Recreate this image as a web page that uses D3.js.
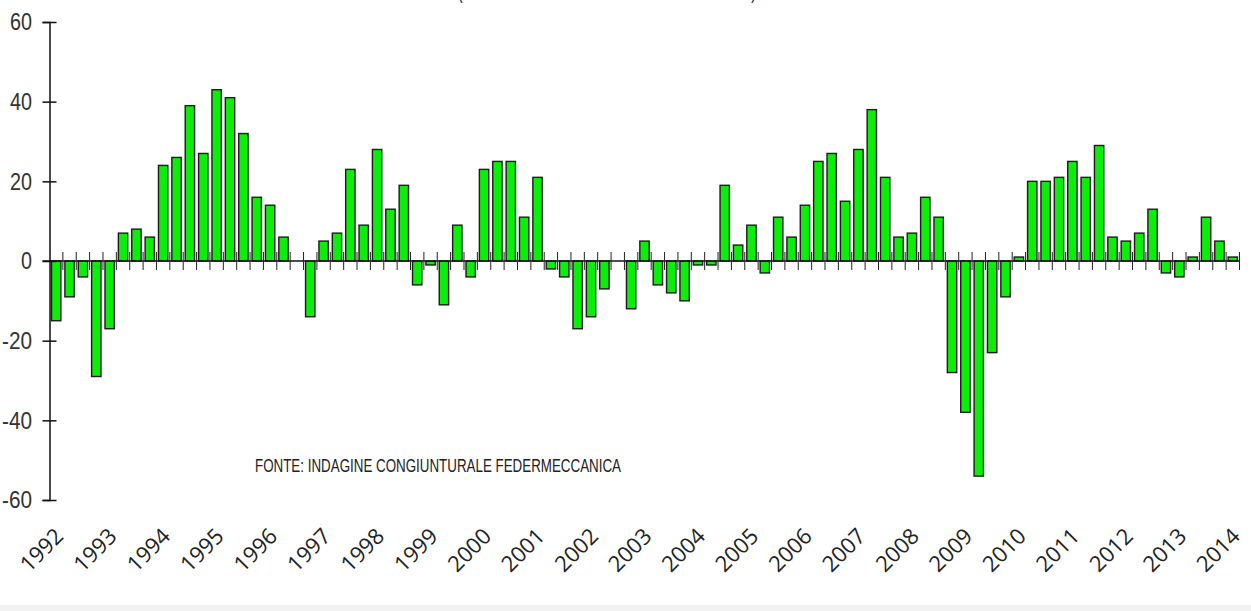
<!DOCTYPE html>
<head>
<meta charset="utf-8">
<style>
  body { margin: 0; background: #fff; }
  svg { display: block; }
</style>
<script src="https://d3js.org/d3.v7.min.js"></script>
</head>
<body>
<script>
// quarterly balance, 1992 Q1 .. 2014 Q1
var years = d3.range(1992, 2015);
var quarters = ["I", "II", "III", "IV"];
var values = [
  -15, -9, -4, -29,     // 1992
  -17, 7, 8, 6,         // 1993
  24, 26, 39, 27,       // 1994
  43, 41, 32, 16,       // 1995
  14, 6, 0, -14,        // 1996
  5, 7, 23, 9,          // 1997
  28, 13, 19, -6,       // 1998
  -1, -11, 9, -4,       // 1999
  23, 25, 25, 11,       // 2000
  21, -2, -4, -17,      // 2001
  -14, -7, 0, -12,      // 2002
  5, -6, -8, -10,       // 2003
  -1, -1, 19, 4,        // 2004
  9, -3, 11, 6,         // 2005
  14, 25, 27, 15,       // 2006
  28, 38, 21, 6,        // 2007
  7, 16, 11, -28,       // 2008
  -38, -54, -23, -9,    // 2009
  1, 20, 20, 21,        // 2010
  25, 21, 29, 6,        // 2011
  5, 7, 13, -3,         // 2012
  -4, 1, 11, 5,         // 2013
  1                     // 2014
];
var yTicks = [60, 40, 20, 0, -20, -40, -60];
var source = "FONTE: INDAGINE CONGIUNTURALE FEDERMECCANICA";

var width = 1251, height = 611;
var x0 = 49.5, x1 = 1239.5;

var data = values.map(function(v, i) {
  return { key: years[Math.floor(i / 4)] + "-" + quarters[i % 4], value: v, i: i };
});

var svg = d3.select("body").append("svg").attr("width", width).attr("height", height);

var x = d3.scaleBand().domain(data.map(function(d) { return d.key; }))
    .range([x0, x1]).paddingInner(0.3).paddingOuter(0.15);
var xi = d3.scaleLinear().domain([0, data.length]).range([x0, x1]);
var y = d3.scaleLinear().domain([-60, 60]).range([500, 22]);

// cut-off heading at the top
svg.append("text")
    .attr("x", 607).attr("y", -1)
    .attr("text-anchor", "middle")
    .attr("font-family", "'Liberation Sans', sans-serif")
    .attr("font-size", 20).attr("fill", "#222")
    .attr("textLength", 298).attr("lengthAdjust", "spacingAndGlyphs")
    .text("(SALDI PERCENTUALI DESTAGIONALIZZATI)");

// bars
svg.selectAll(".bar")
    .data(data.filter(function(d) { return d.value !== 0; }))
    .enter().append("rect")
    .attr("class", "bar")
    .attr("x", function(d) { return x(d.key); })
    .attr("width", x.bandwidth())
    .attr("y", function(d) { return y(Math.max(0, d.value)); })
    .attr("height", function(d) { return Math.abs(y(d.value) - y(0)); })
    .attr("fill", "#0aee0a")
    .attr("stroke", "#1c1c1c")
    .attr("stroke-width", 1.4);

// y axis
var yAxis = svg.append("g")
    .attr("transform", "translate(" + x0 + ",0)")
    .call(d3.axisLeft(y).tickValues(yTicks).tickSizeOuter(0).tickSize(7).tickPadding(10.5));
yAxis.select(".domain").attr("stroke", "#111").attr("stroke-width", 1.5);
yAxis.selectAll(".tick line").attr("x1", -7).attr("x2", 7).attr("stroke", "#111").attr("stroke-width", 1.5);
yAxis.selectAll(".tick text")
    .attr("font-family", "'Liberation Sans', sans-serif")
    .attr("font-size", 24).attr("fill", "#333")
    .attr("textLength", function(d) { return String(Math.abs(d)).length * 11 + (d < 0 ? 8 : 0); })
    .attr("lengthAdjust", "spacingAndGlyphs")
    .text(function(d) { return d < 0 ? "-" + Math.abs(d) : String(d); });

// zero line with quarter ticks
svg.append("line")
    .attr("x1", x0 - 7).attr("x2", x1)
    .attr("y1", y(0)).attr("y2", y(0))
    .attr("stroke", "#111").attr("stroke-width", 1.5);
svg.selectAll(".qtick")
    .data(d3.range(1, data.length + 1))
    .enter().append("line")
    .attr("class", "qtick")
    .attr("x1", function(d) { return xi(d); }).attr("x2", function(d) { return xi(d); })
    .attr("y1", y(0) - 9).attr("y2", y(0) + 9)
    .attr("stroke", "#222").attr("stroke-width", 1);

// year labels
svg.selectAll(".year")
    .data(years)
    .enter().append("text")
    .attr("class", "year")
    .attr("transform", function(d) {
      return "translate(" + (xi((d - 1992) * 4) - 8) + ",550) rotate(-45)";
    })
    .attr("text-anchor", "middle")
    .attr("dy", "0.35em")
    .attr("font-family", "'Open Sans', sans-serif")
    .attr("font-size", 22).attr("fill", "#222")
    .text(function(d) { return d; });

// source note
svg.append("text")
    .attr("x", 255).attr("y", 472)
    .attr("font-family", "'Liberation Sans', sans-serif")
    .attr("font-size", 19).attr("fill", "#222")
    .attr("textLength", 366).attr("lengthAdjust", "spacingAndGlyphs")
    .text(source);

// grey strip at the bottom
svg.append("rect")
    .attr("x", 0).attr("y", 605).attr("width", width).attr("height", 6)
    .attr("fill", "#f2f2f2");
</script>
</body>
</html>
